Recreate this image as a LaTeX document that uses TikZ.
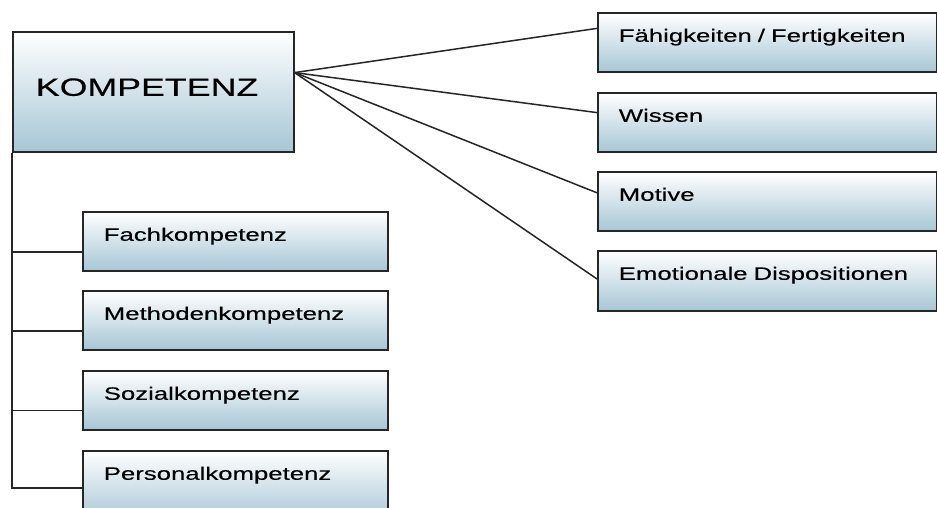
\documentclass[tikz,border=0pt]{standalone}
\usepackage{fontspec}
\setmainfont{Liberation Sans}[FakeStretch=1.43,FakeBold=0.3]
\usetikzlibrary{calc}
\definecolor{boxline}{HTML}{262626}
\definecolor{boxbottom}{HTML}{A6C6D5}
\begin{document}
\begin{tikzpicture}[x=1pt,y=-1pt,
  box/.style={draw=boxline, line width=1.6pt, top color=white, bottom color=boxbottom,
    anchor=north west, inner ysep=0pt, inner xsep=21pt, align=left,
    font=\fontsize{18}{20}\selectfont, text width=263pt,
    text height=29pt, text depth=30pt},
  rightbox/.style={box, text width=297pt},
  link/.style={draw=boxline, line width=1.5pt}]
\useasboundingbox (0,0) rectangle (937,507);
\clip (0,0) rectangle (937,507);
\fill[white] (0,0) rectangle (937,507);

% main concept
\node[box, inner xsep=23pt, text width=235pt, text height=64pt, text depth=56pt,
  font=\fontsize{25}{28}\selectfont] (komp) at (12,31) {KOMPETENZ};

% kinds of competence (left column)
\node[box] (fach) at (82,211) {Fachkompetenz};
\node[box] (meth) at (82,290) {Methodenkompetenz};
\node[box] (sozi) at (82,370) {Sozialkompetenz};
\node[box, text depth=42pt] (pers) at (82,450) {Personalkompetenz};

% components (right column)
\node[rightbox] (faeh) at (597,12) {Fähigkeiten / Fertigkeiten};
\node[rightbox] (wiss) at (597,92) {Wissen};
\node[rightbox] (moti) at (597,171) {Motive};
\node[rightbox, text depth=31pt] (emot) at (597,250) {Emotionale Dispositionen};

% fan of connectors to the components
\coordinate (hub) at ($(komp.north east)!0.342!(komp.south east)$);
\draw[link] (hub) -- ($(faeh.north west)!0.27!(faeh.south west)$);
\draw[link] (hub) -- ($(wiss.north west)!0.34!(wiss.south west)$);
\draw[link] (hub) -- ($(moti.north west)!0.36!(moti.south west)$);
\draw[link] (hub) -- ($(emot.north west)!0.47!(emot.south west)$);

% tree line to the kinds of competence
\coordinate (fachin) at ($(fach.north west)!0.68!(fach.south west)$);
\coordinate (methin) at ($(meth.north west)!0.68!(meth.south west)$);
\coordinate (soziin) at ($(sozi.north west)!0.67!(sozi.south west)$);
\coordinate (persin) at ($(pers.north west)+(0,38)$);
\draw[link] (komp.south west) |- (persin);
\draw[link] (fachin -| komp.south west) -- (fachin);
\draw[link] (methin -| komp.south west) -- (methin);
\draw[link] (soziin -| komp.south west) -- (soziin);
\end{tikzpicture}
\end{document}
